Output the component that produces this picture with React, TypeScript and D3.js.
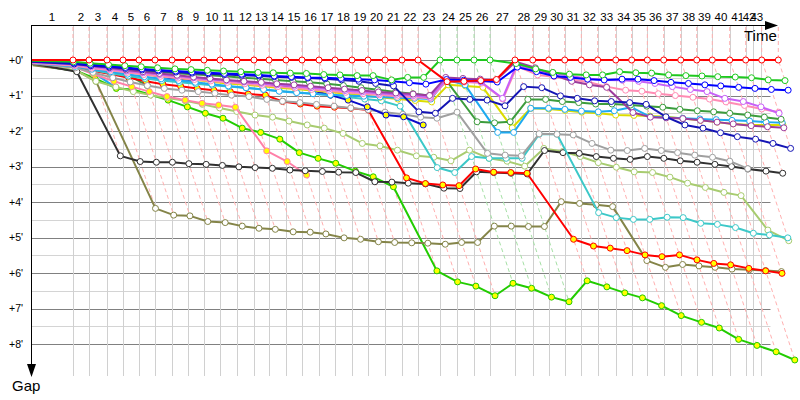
import React from 'react';
import * as d3 from 'd3';

// Leader lap end times (minutes from start), laps 1..43
const lapEnd = [3.62, 5.0, 6.55, 7.93, 9.31, 10.69, 12.16, 13.53, 14.91, 16.29, 17.76, 19.22, 20.52, 21.98, 23.36, 24.83, 26.21, 27.67, 29.05, 30.52, 31.98, 33.36, 35.26, 36.72, 38.19, 39.57, 41.72, 43.25, 44.63, 46.01, 47.44, 48.85, 50.41, 51.78, 53.13, 54.54, 56.01, 57.39, 58.73, 60.23, 61.61, 62.99, 64.42];
// Lap grid (tick) times, laps 1..43
const gridLapEnd = [3.62, 5.0, 6.55, 7.93, 9.31, 10.69, 12.16, 13.53, 14.91, 16.29, 17.76, 19.22, 20.52, 21.98, 23.36, 24.83, 26.21, 27.67, 29.05, 30.52, 31.98, 33.36, 35.26, 36.72, 38.19, 39.57, 41.72, 43.25, 44.63, 46.01, 47.44, 48.85, 50.41, 51.78, 53.13, 54.54, 56.01, 57.39, 58.73, 60.23, 61.61, 62.2, 62.93];
const lapLabels = ['1','2','3','4','5','6','7','8','9','10','11','12','13','14','15','16','17','18','19','20','21','22','23','24','25','26','27','28','29','30','31','32','33','34','35','36','37','38','39','40','41','42','43'];
const yellowFlagLaps = [23, 24, 25, 26];
const gapTicks = [0, 1, 2, 3, 4, 5, 6, 7, 8];
const gapLabels = ["+0'", "+1'", "+2'", "+3'", "+4'", "+5'", "+6'", "+7'", "+8'"];

// Gaps to leader (minutes), index = lap (0 = start)
const redWhite = [0,0,0,0,0,0,0,0,0,0, 0,0,0,0,0,0,0,0,0,0, 0,0,0,0.61,0.6,0.58,0.55,0,0,0, 0,0,0,0,0,0,0,0,0,0, 0,0,0,0];
const greenWhite = [0.02,0.05,0.09,0.13,0.16,0.19,0.22,0.25,0.27,0.29, 0.31,0.33,0.35,0.36,0.37,0.38,0.41,0.42,0.44,0.44, 0.56,0.49,0.49,0,0,0,0,0.1,0.25,0.35, 0.4,0.42,0.42,0.33,0.36,0.37,0.42,0.44,0.45,0.47, 0.48,0.5,0.56,0.58];
const blueWhite = [0.03,0.08,0.13,0.17,0.21,0.25,0.28,0.31,0.34,0.36, 0.38,0.4,0.42,0.45,0.47,0.49,0.5,0.52,0.54,0.56, 0.6,0.64,0.68,0.55,0.57,0.59,0.62,0.2,0.33,0.45, 0.49,0.54,0.56,0.54,0.54,0.58,0.63,0.66,0.7,0.73, 0.77,0.8,0.83,0.85];
const navyWhite = [0.05,0.11,0.16,0.2,0.24,0.28,0.31,0.34,0.37,0.39, 0.41,0.43,0.45,0.47,0.49,0.51,0.53,0.56,0.6,0.66, 0.73,1.46,1.5,1.08,1.11,1.13,1.29,0.75,0.78,1.01, 1.08,1.15,1.17,1.2,1.25,1.6,1.83,1.92,2.05,2.16, 2.23,2.35,2.49];
const violetWhite = [0.06,0.13,0.19,0.25,0.31,0.36,0.41,0.46,0.5,0.54, 0.58,0.62,0.66,0.7,0.74,0.78,0.82,0.86,0.9,0.94, 0.97,1.0,1.05,0.55,0.6,0.62,1.08,0.14,0.3,0.36, 0.45,0.52,0.56,0.57,0.6,0.66,0.75,0.83,0.89,1.08, 1.17,1.32,1.5];
const pinkWhite = [0.08,0.16,0.23,0.29,0.35,0.41,0.46,0.51,0.55,0.59, 0.63,0.67,0.71,0.75,0.79,0.83,0.87,0.91,0.95,0.98, 1.02,1.05,1.08,0.58,0.62,0.65,1.1,0.18,0.42,0.47, 0.55,0.62,0.75,0.85,0.88,0.95,1.0,1.05,1.1,1.18, 1.28,1.38,1.47];
const darkGreenWhite = [0.05,0.12,0.18,0.22,0.26,0.3,0.34,0.37,0.4,0.43, 0.46,0.5,0.53,0.56,0.6,0.63,0.67,0.72,0.78,0.84, 0.9,0.95,1.0,0.6,1.74,1.77,1.74,1.11,1.11,1.17, 1.2,1.24,1.24,1.27,1.3,1.33,1.39,1.43,1.46,1.5, 1.55,1.61,1.67];
const lightBlueWhite = [0.08,0.18,0.26,0.33,0.4,0.47,0.53,0.58,0.63,0.68, 0.73,0.78,0.83,0.88,0.92,0.95,0.98,1.0,1.02,1.04, 1.06,1.08,1.1,0.56,0.7,2.04,2.04,1.36,1.36,1.39, 1.44,1.46,1.43,1.33,1.6,1.62,1.64,1.66,1.68,1.7, 1.72,1.75,1.77];
const yellowWhite = [0.07,0.15,0.22,0.28,0.34,0.4,0.46,0.51,0.56,0.61, 0.66,0.7,0.74,0.78,0.82,0.86,0.9,0.95,1.0,1.05, 1.1,1.14,1.18,0.7,0.73,0.77,1.91,1.36,1.38,1.42, 1.47,1.5,1.55,1.56,1.58,1.6,1.65,1.7,1.75,1.8, 1.83,1.83,1.83];
const darkPurpleWhite = [0.04,0.1,0.16,0.22,0.28,0.33,0.38,0.43,0.48,0.52, 0.56,0.6,0.63,0.67,0.7,0.74,0.78,0.82,0.86,0.9, 0.93,0.96,1.0,0.49,0.52,0.54,0.56,0.05,0.22,0.42, 0.6,0.7,0.77,1.48,1.61,1.63,1.65,1.7,1.75,1.8, 1.85,1.88,1.91];
const grayWhite = [0.1,0.22,0.35,0.5,0.62,0.72,0.8,0.85,0.89,0.94, 0.99,1.03,1.11,1.16,1.2,1.25,1.3,1.35,1.4,1.47, 1.53,1.61,1.64,1.47,2.63,2.68,2.7,2.08,2.09,2.11, 2.35,2.54,2.55,2.49,2.55,2.61,2.68,2.74,2.85,3.06];
const blackWhite = [0.1,0.33,2.7,2.86,2.88,2.88,2.92,2.94,2.97,3.01, 3.03,3.05,3.1,3.12,3.14,3.16,3.17,3.43,3.44,3.47, 3.49,3.61,3.62,3.15,3.17,3.19,3.21,2.55,2.61,2.63, 2.72,2.77,2.8,2.72,2.77,2.84,2.88,2.94,3.0,3.07, 3.13,3.19];
const cyanWhite = [0.06,0.15,0.28,0.38,0.45,0.52,0.58,0.63,0.67,0.71, 0.75,0.79,0.83,0.87,0.91,0.95,0.99,1.04,1.1,1.15, 1.3,3.03,3.17,2.72,2.77,2.77,2.77,2.09,2.09,4.3, 4.44,4.49,4.49,4.43,4.44,4.6,4.63,4.72,4.88,4.93, 5.01];
const lightOliveWhite = [0.1,0.3,0.6,0.76,0.89,0.99,1.07,1.15,1.25,1.35, 1.45,1.55,1.61,1.72,1.83,1.92,2.07,2.35,2.42,2.54, 2.7,2.74,2.84,2.54,2.77,2.85,2.99,2.49,2.58,2.72, 2.89,3.02,3.15,3.17,3.3,3.47,3.59,3.73,3.82,4.79, 5.09];
const oliveWhite = [0.15,0.3,0.6,4.18,4.37,4.39,4.55,4.58,4.68,4.74, 4.77,4.84,4.85,4.9,5.01,5.05,5.12,5.14,5.15,5.16, 5.19,5.14,5.14,4.68,4.68,4.69,4.69,3.99,4.04,4.08, 4.13,5.65,5.84,5.76,5.8,5.84,5.89,5.91,5.93,5.96];
const redYellow = [0.08,0.2,0.3,0.4,0.5,0.6,0.68,0.74,0.8,0.85, 0.89,0.96,0.99,1.17,1.24,1.3,1.33,1.36,1.41,3.32, 3.48,3.52,3.54,3.07,3.16,3.17,3.19,5.05,5.24,5.3, 5.37,5.49,5.54,5.49,5.63,5.73,5.77,5.87,5.94,6.01];
const greenYellow = [0.12,0.31,0.52,0.8,0.83,0.98,1.13,1.32,1.5,1.64, 1.92,2.04,2.23,2.61,2.77,2.91,3.13,3.29,3.57,5.94, 6.25,6.37,6.64,6.29,6.43,6.68,6.81,6.22,6.39,6.56, 6.7,6.92,7.2,7.39,7.55,7.87,8.04,8.22,8.45];
const pinkYellow = [0.1,0.2,0.4,0.6,0.75,0.89,1.03,1.13,1.22,1.27, 1.33,2.56,2.86,3.24];
const navyYellow = [0.05,0.12,0.2,0.26,0.31,0.36,0.47,0.54,0.56,0.56, 0.59,0.66,0.7,0.74,0.78,0.85,0.99,1.13,1.32,1.55, 1.6,1.83];
const lightBlueYellow = [0.1,0.2,0.35,0.78];
const darkGreenYellow = [0.05,0.1,0.25,0.35,0.42,0.72];

const seriesList = [
  { gaps: lightBlueYellow, color: '#1eaaf0', fill: '#ffff00' },
  { gaps: darkGreenYellow, color: '#3c9c3c', fill: '#ffff00' },
  { gaps: greenYellow, color: '#22cc00', fill: '#ffff00' },
  { gaps: oliveWhite, color: '#848448', fill: '#ffffff' },
  { gaps: lightOliveWhite, color: '#a8cc70', fill: '#ffffff' },
  { gaps: pinkYellow, color: '#ff80a8', fill: '#ffff00' },
  { gaps: blackWhite, color: '#303030', fill: '#ffffff' },
  { gaps: redYellow, color: '#ff0000', fill: '#ffff00' },
  { gaps: cyanWhite, color: '#3cc8c8', fill: '#ffffff' },
  { gaps: grayWhite, color: '#a0a0a0', fill: '#ffffff' },
  { gaps: navyYellow, color: '#0a0ac8', fill: '#ffff00' },
  { gaps: yellowWhite, color: '#dcdc00', fill: '#ffffff' },
  { gaps: lightBlueWhite, color: '#1eaaf0', fill: '#ffffff' },
  { gaps: darkGreenWhite, color: '#3c9c3c', fill: '#ffffff' },
  { gaps: pinkWhite, color: '#ff8cb4', fill: '#ffffff' },
  { gaps: violetWhite, color: '#c860f8', fill: '#ffffff' },
  { gaps: darkPurpleWhite, color: '#9c3c9c', fill: '#ffffff' },
  { gaps: navyWhite, color: '#1414b4', fill: '#ffffff' },
  { gaps: blueWhite, color: '#0000ff', fill: '#ffffff' },
  { gaps: greenWhite, color: '#1ec81e', fill: '#ffffff' },
  { gaps: redWhite, color: '#ff0000', fill: '#ffffff' },
];

const W = 800, H = 400;
const LEFT = 31, TOP = 25, BOTTOM = 376, GRID_RIGHT = 770.5;

export default function App() {
  const x = d3.scaleLinear().domain([0, lapEnd[lapEnd.length - 1]]).range([LEFT, 778.3]);
  const y = d3.scaleLinear().domain([0, 8]).range([60, 344]);
  const lapStart = (i: number) => (i === 0 ? 0 : lapEnd[i - 1]);
  const font = "'Liberation Sans', Arial, sans-serif";

  const halfTicks = d3.range(0, 8.01, 0.5);

  const line = d3.line<[number, number]>().x(d => d[0]).y(d => d[1]);

  // dashed per-lap lines, ending at slowest car of that lap
  const lapLines = lapEnd.map((t, idx) => {
    const lap = idx + 1;
    let gmax = 0;
    seriesList.forEach(s => {
      const g = s.gaps[lap];
      if (g != null && g > gmax) gmax = g;
    });
    const d = `M${x(t)},${TOP + 2}L${x(t)},${y(0)}L${x(t + gmax)},${y(gmax)}`;
    const green = yellowFlagLaps.includes(lap);
    return <path key={'ll' + lap} d={d} fill="none" stroke={green ? '#a6e0a6' : '#ffb0b0'} strokeWidth={1} strokeDasharray="4,3" />;
  });

  return (
    <svg width={W} height={H} style={{ position: 'absolute', left: 0, top: 0, background: '#fff' }}>
      {/* horizontal grid */}
      {halfTicks.map(g => (
        <line key={'h' + g} x1={LEFT} x2={GRID_RIGHT} y1={Math.round(y(g)) + 0.5} y2={Math.round(y(g)) + 0.5}
          stroke={Number.isInteger(g) ? '#808080' : '#d4d4d4'} strokeWidth={1} />
      ))}
      {/* vertical lap grid */}
      {gridLapEnd.map((t, i) => (
        <line key={'v' + i} x1={Math.round(x(t)) + 0.5} x2={Math.round(x(t)) + 0.5} y1={TOP} y2={BOTTOM}
          stroke="#d0d0d0" strokeWidth={1} />
      ))}
      {lapLines}
      {/* series */}
      {seriesList.map((s, si) => {
        const pts = s.gaps.map((g, i) => [x(lapStart(i) + g), y(g)] as [number, number]);
        return (
          <g key={'s' + si}>
            <path d={line(pts) || ''} fill="none" stroke={s.color} strokeWidth={2} strokeLinejoin="round" />
            {pts.slice(1).map((p, i) => (
              <circle key={i} cx={p[0]} cy={p[1]} r={3} fill={s.fill} stroke={s.color} strokeWidth={1} />
            ))}
          </g>
        );
      })}
      {/* axes */}
      <line x1={LEFT} x2={767} y1={TOP + 0.5} y2={TOP + 0.5} stroke="#000" strokeWidth={1} />
      <path d={`M765,21L778,25.5L765,30Z`} fill="#000" />
      <line x1={LEFT + 0.5} x2={LEFT + 0.5} y1={TOP} y2={366} stroke="#000" strokeWidth={1} />
      <path d={`M27,364L31.5,377L36,364Z`} fill="#000" />
      {lapLabels.map((lab, i) => {
        const a = i === 0 ? 0 : gridLapEnd[i - 1];
        const b = gridLapEnd[i];
        return (
          <text key={'lab' + i} x={x((a + b) / 2)} y={21} textAnchor="middle" fontFamily={font} fontSize={11.5} fill="#000">{lab}</text>
        );
      })}
      {gapTicks.map((g, i) => (
        <text key={'gl' + i} x={23} y={y(g) + 3.5} textAnchor="end" fontFamily={font} fontSize={10.5} fill="#000">{gapLabels[i]}</text>
      ))}
      <text x={744} y={41} fontFamily={font} fontSize={15} fill="#000">Time</text>
      <text x={12} y={391} fontFamily={font} fontSize={15} fill="#000">Gap</text>
    </svg>
  );
}
